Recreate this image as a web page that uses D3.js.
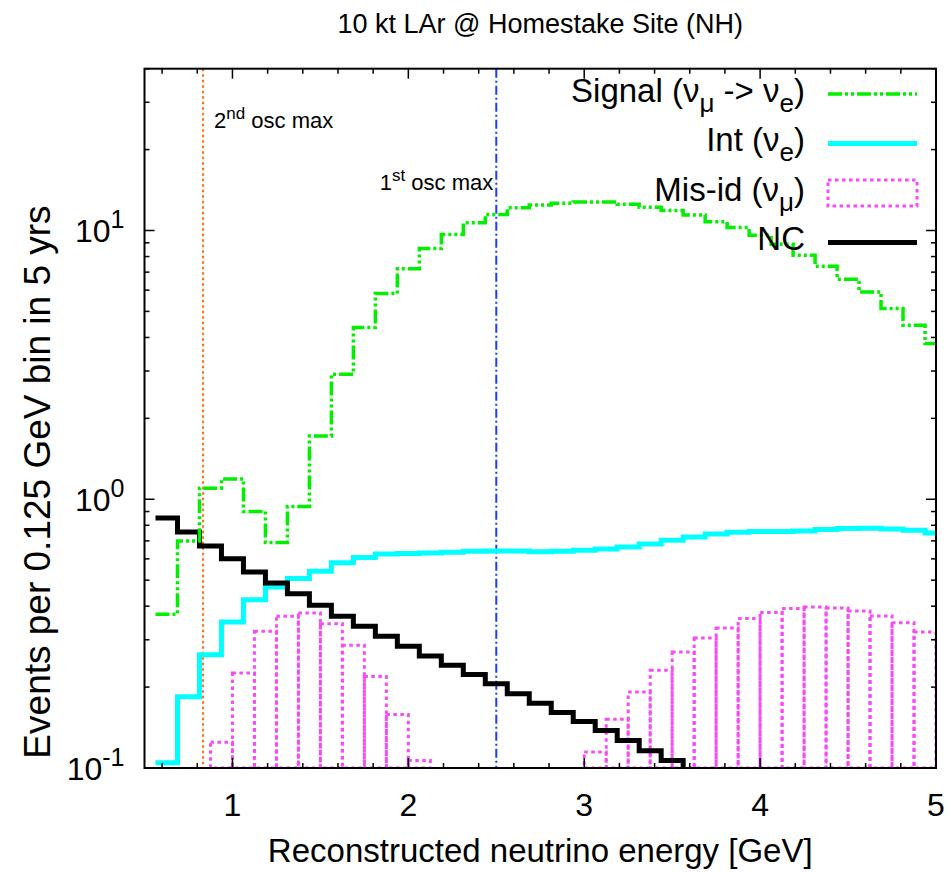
<!DOCTYPE html>
<html>
<head>
<meta charset="utf-8">
<script src="https://cdn.jsdelivr.net/npm/d3@7"></script>
<style>
  body { margin: 0; background: #fff; }
  svg { font-family: "Liberation Sans", Arial, Helvetica, sans-serif; }
</style>
</head>
<body>
<svg id="chart" width="950" height="872"></svg>
<script>
// bin centres used by the histep curves (signal, int, NC)
var stepCentres = [0.625, 0.75, 0.875, 1.0, 1.125, 1.25, 1.375, 1.5, 1.625, 1.75, 1.875, 2.0,
  2.125, 2.25, 2.375, 2.5, 2.625, 2.75, 2.875, 3.0, 3.125, 3.25, 3.375, 3.5,
  3.625, 3.75, 3.875, 4.0, 4.125, 4.25, 4.375, 4.5, 4.625, 4.75, 4.875, 5.0];
// bin centres used by the mis-id boxes
var boxCentres = [0.5625, 0.6875, 0.8125, 0.9375, 1.0625, 1.1875, 1.3125, 1.4375, 1.5625, 1.6875, 1.8125, 1.9375,
  2.0625, 2.1875, 2.3125, 2.4375, 2.5625, 2.6875, 2.8125, 2.9375, 3.0625, 3.1875, 3.3125, 3.4375,
  3.5625, 3.6875, 3.8125, 3.9375, 4.0625, 4.1875, 4.3125, 4.4375, 4.5625, 4.6875, 4.8125, 4.9375];
var binWidth = 0.125;

var signal = [0.373, 0.70, 1.10, 1.19, 0.90, 0.69, 0.94, 1.72, 2.92, 4.36, 5.83, 7.20,
  8.58, 9.67, 10.68, 11.48, 12.15, 12.43, 12.62, 12.76, 12.76, 12.52, 12.2, 11.86,
  11.41, 10.78, 10.27, 9.61, 8.88, 8.09, 7.36, 6.59, 5.91, 5.13, 4.44, 3.80];
var intNue = [0.1047, 0.184, 0.264, 0.349, 0.423, 0.472, 0.507, 0.540, 0.580, 0.607, 0.625, 0.628,
  0.631, 0.635, 0.640, 0.642, 0.642, 0.638, 0.640, 0.646, 0.653, 0.664, 0.682, 0.704,
  0.724, 0.743, 0.754, 0.758, 0.758, 0.762, 0.771, 0.778, 0.780, 0.775, 0.767, 0.749];
var misid = [0.03, 0.05, 0.08, 0.1247, 0.2256, 0.3226, 0.3667, 0.3774, 0.344, 0.286, 0.219, 0.158,
  0.1067, 0.06, 0.03, 0.012, 0.005, 0.012, 0.03, 0.06, 0.1146, 0.152, 0.1917, 0.231,
  0.270, 0.3045, 0.332, 0.3597, 0.3787, 0.3918, 0.397, 0.3938, 0.3838, 0.3677, 0.3473, 0.3206];
var nc = [0.852, 0.756, 0.670, 0.601, 0.536, 0.488, 0.445, 0.403, 0.367, 0.337, 0.309, 0.284,
  0.261, 0.241, 0.223, 0.206, 0.189, 0.174, 0.161, 0.149, 0.138, 0.1265, 0.116, 0.1066,
  0.098, 0.090, 0.083, 0.077, 0.071, 0.066, 0.061, 0.057, 0.053, 0.049, 0.046, 0.043];

var oscMax = [{e: 0.833, label: "2", sup: "nd"}, {e: 2.5, label: "1", sup: "st"}];
var xTicks = [1, 2, 3, 4, 5];
var yTicks = [{v: 0.1, exp: "-1"}, {v: 1, exp: "0"}, {v: 10, exp: "1"}];

var svg = d3.select("#chart");
var margin = {top: 68.7, right: 14, bottom: 104, left: 144.5};
var W = 950 - margin.left - margin.right;
var H = 872 - margin.top - margin.bottom;

var x = d3.scaleLinear().domain([0.5, 5]).range([0, W]);
var y = d3.scaleLog().domain([0.1, 40]).range([H, 0]);

var g = svg.append("g").attr("transform", "translate(" + margin.left + "," + margin.top + ")");

g.append("clipPath").attr("id", "clip")
  .append("rect").attr("x", 0).attr("y", 0).attr("width", W).attr("height", H);

var plot = g.append("g").attr("clip-path", "url(#clip)");

// histep path: a flat segment per bin
function stepPoints(vals) {
  var pts = [];
  vals.forEach(function(v, i) {
    pts.push([stepCentres[i] - binWidth / 2, v]);
    pts.push([stepCentres[i] + binWidth / 2, v]);
  });
  return pts;
}
var line = d3.line().x(function(d) { return x(d[0]); }).y(function(d) { return y(d[1]); });

// mis-id boxes
plot.append("g").selectAll("rect")
  .data(misid.map(function(v, i) { return {c: boxCentres[i], v: v}; })
    .filter(function(d) { return d.v > 0.1; }))
  .enter().append("rect")
  .attr("x", function(d) { return x(d.c - binWidth / 2); })
  .attr("width", function(d) { return x(d.c + binWidth / 2) - x(d.c - binWidth / 2); })
  .attr("y", function(d) { return y(d.v); })
  .attr("height", function(d) { return H - y(d.v); })
  .attr("fill", "none")
  .attr("stroke", "#f64cf6")
  .attr("stroke-width", 3)
  .attr("stroke-dasharray", "3.5,3.5");

// oscillation-maximum markers
plot.append("line")
  .attr("x1", x(oscMax[0].e)).attr("x2", x(oscMax[0].e)).attr("y1", 0).attr("y2", H)
  .attr("stroke", "#ff6a14").attr("stroke-width", 2).attr("stroke-dasharray", "2.5,3");
plot.append("line")
  .attr("x1", x(oscMax[1].e)).attr("x2", x(oscMax[1].e)).attr("y1", 0).attr("y2", H)
  .attr("stroke", "#1a3cff").attr("stroke-width", 2).attr("stroke-dasharray", "9,3,2,3");

plot.append("path").attr("d", line(stepPoints(intNue)))
  .attr("fill", "none").attr("stroke", "#00ffff").attr("stroke-width", 5);
plot.append("path").attr("d", line(stepPoints(nc)))
  .attr("fill", "none").attr("stroke", "#000").attr("stroke-width", 5);
plot.append("path").attr("d", line(stepPoints(signal)))
  .attr("fill", "none").attr("stroke", "#00f000").attr("stroke-width", 3.5)
  .attr("stroke-dasharray", "14,3,3,3,3,3");

// frame and ticks (mirrored on all sides, pointing in)
g.append("rect").attr("width", W).attr("height", H)
  .attr("fill", "none").attr("stroke", "#000").attr("stroke-width", 2);

var xMinor = d3.range(6, 50, 2).map(function(d) { return d / 10; });
var ticks = g.append("g").attr("stroke", "#000").attr("stroke-width", 1.5);
xMinor.forEach(function(t) {
  var major = xTicks.indexOf(t) >= 0;
  var len = major ? 10 : 5;
  ticks.append("line").attr("x1", x(t)).attr("x2", x(t)).attr("y1", H).attr("y2", H - len);
  ticks.append("line").attr("x1", x(t)).attr("x2", x(t)).attr("y1", 0).attr("y2", len);
});
var yAll = [];
[0.1, 1, 10].forEach(function(d) {
  for (var k = 1; k < 10; k++) if (d * k <= 40) yAll.push({v: d * k, major: k == 1});
});
yAll.forEach(function(t) {
  var len = t.major ? 10 : 5;
  ticks.append("line").attr("x1", 0).attr("x2", len).attr("y1", y(t.v)).attr("y2", y(t.v));
  ticks.append("line").attr("x1", W).attr("x2", W - len).attr("y1", y(t.v)).attr("y2", y(t.v));
});

// tick labels
g.append("g").selectAll("text").data(xTicks).enter().append("text")
  .attr("x", function(d) { return x(d); }).attr("y", H + 48)
  .attr("text-anchor", "middle").attr("font-size", 32).text(function(d) { return d; });

var yl = g.append("g").selectAll("text").data(yTicks).enter().append("text")
  .attr("x", -20).attr("y", function(d) { return y(d.v) + 12; })
  .attr("text-anchor", "end").attr("font-size", 32);
yl.append("tspan").text("10");
yl.append("tspan").attr("font-size", 25).attr("dy", -14).text(function(d) { return d.exp; });

// axis titles
svg.append("text").attr("x", margin.left + W / 2).attr("y", 33)
  .attr("text-anchor", "middle").attr("font-size", 27).text("10 kt LAr @ Homestake Site (NH)");
svg.append("text").attr("x", margin.left + W / 2).attr("y", 862)
  .attr("text-anchor", "middle").attr("font-size", 33).text("Reconstructed neutrino energy [GeV]");
svg.append("text").attr("transform", "translate(50,482) rotate(-90)")
  .attr("text-anchor", "middle").attr("font-size", 37).text("Events per 0.125 GeV bin in 5 yrs");

// osc max labels
var o2 = g.append("text").attr("x", x(oscMax[0].e) + 11).attr("y", 59).attr("font-size", 22);
o2.append("tspan").text(oscMax[0].label);
o2.append("tspan").attr("font-size", 17).attr("dy", -9).text(oscMax[0].sup);
o2.append("tspan").attr("dy", 9).text(" osc max");
var o1 = g.append("text").attr("x", x(oscMax[1].e) - 3).attr("y", 121).attr("font-size", 22)
  .attr("text-anchor", "end");
o1.append("tspan").text(oscMax[1].label);
o1.append("tspan").attr("font-size", 17).attr("dy", -9).text(oscMax[1].sup);
o1.append("tspan").attr("dy", 9).text(" osc max");

// legend
var legend = [
  {parts: [["Signal (ν", 0], ["μ", 1], [" -> ν", 0], ["e", 1], [")", 0]], type: "signal"},
  {parts: [["Int (ν", 0], ["e", 1], [")", 0]], type: "int"},
  {parts: [["Mis-id (ν", 0], ["μ", 1], [")", 0]], type: "misid"},
  {parts: [["NC", 0]], type: "nc"}
];
var lx0 = 828 - margin.left, lx1 = 917 - margin.left, ltx = 805 - margin.left;
legend.forEach(function(L, i) {
  var cy = 94 - margin.top + i * 49.5;
  var t = g.append("text").attr("x", ltx).attr("y", cy + 8).attr("text-anchor", "end").attr("font-size", 33);
  var down = false;
  L.parts.forEach(function(p) {
    var ts = t.append("tspan").text(p[0]);
    if (p[1]) { ts.attr("font-size", 26).attr("dy", 10); down = true; }
    else if (down) { ts.attr("dy", -10); down = false; }
  });
  if (L.type == "signal") {
    g.append("line").attr("x1", lx0).attr("x2", lx1).attr("y1", cy).attr("y2", cy)
      .attr("stroke", "#00f000").attr("stroke-width", 3.5).attr("stroke-dasharray", "14,3,3,3,3,3");
  } else if (L.type == "int") {
    g.append("line").attr("x1", lx0).attr("x2", lx1).attr("y1", cy).attr("y2", cy)
      .attr("stroke", "#00ffff").attr("stroke-width", 5);
  } else if (L.type == "misid") {
    g.append("rect").attr("x", lx0).attr("y", cy - 13).attr("width", lx1 - lx0).attr("height", 26)
      .attr("fill", "none").attr("stroke", "#f64cf6").attr("stroke-width", 3).attr("stroke-dasharray", "3.5,3.5");
  } else {
    g.append("line").attr("x1", lx0).attr("x2", lx1).attr("y1", cy).attr("y2", cy)
      .attr("stroke", "#000").attr("stroke-width", 5);
  }
});
</script>
</body>
</html>
